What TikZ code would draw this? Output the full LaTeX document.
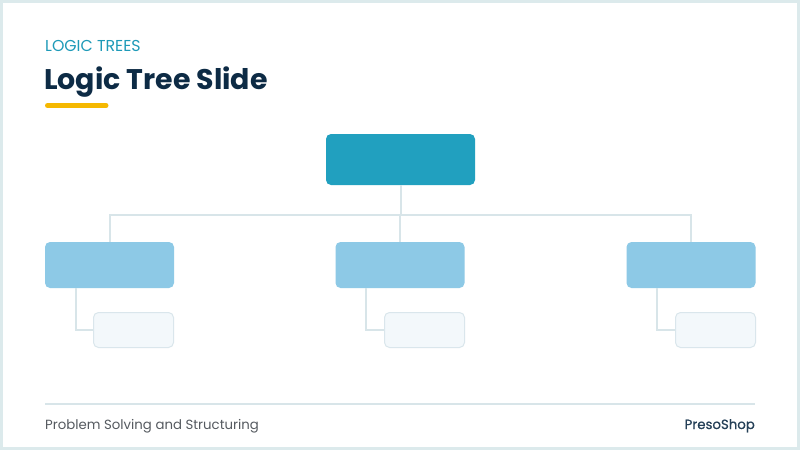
\documentclass[tikz,border=0pt]{standalone}
\usepackage{fontspec}
\setmainfont{Poppins}
\usetikzlibrary{positioning}

\definecolor{navy}{HTML}{0D2B45}
\definecolor{teal1}{HTML}{1E9AB8}
\definecolor{rootblue}{HTML}{21A0BF}
\definecolor{childblue}{HTML}{8DC9E6}
\definecolor{leaffill}{HTML}{F3F8FB}
\definecolor{leafline}{HTML}{DAE6EC}
\definecolor{wire}{HTML}{D8E5E9}
\definecolor{frame}{HTML}{DCEAEC}
\definecolor{accent}{HTML}{F5B800}
\definecolor{foot}{HTML}{555A60}

\begin{document}
\begin{tikzpicture}[
    x=1pt, y=-1pt,
    rootbox/.style={rectangle, rounded corners=5pt, fill=rootblue, draw=none,
                    minimum width=149pt, minimum height=51pt, inner sep=0pt},
    childbox/.style={rectangle, rounded corners=5pt, fill=childblue, draw=none,
                     minimum width=129pt, minimum height=46pt, inner sep=0pt},
    leafbox/.style={rectangle, rounded corners=5pt, fill=leaffill, draw=leafline,
                    line width=1pt, minimum width=80pt, minimum height=35pt, inner sep=0pt},
    wire/.style={draw=wire, line width=2pt},
    footnote/.style={font=\fontsize{13.3}{15}\selectfont, inner sep=0pt}
]

% --- Marco y fondo ---
\useasboundingbox (0,0) rectangle (800,450);
\fill[white] (0,0) rectangle (800,450);
\draw[frame, line width=3pt] (1.5,1.5) rectangle (798.5,448.5);

% --- Encabezado ---
\node[anchor=base west, inner sep=0pt, text=teal1, font=\fontsize{15.8}{18}\selectfont]
    (kicker) at (45,51.5) {LOGIC TREES};
\node[anchor=base west, inner sep=0pt, text=navy, font=\fontsize{28.4}{32}\bfseries\selectfont]
    (title) at (44,89.5) {Logic Tree Slide};
\draw[accent, line width=5pt, line cap=round] (47.5,105.5) -- (106,105.5);

% --- Arbol ---
\node[rootbox] (root) at (400.5,159.5) {};

\node[childbox] (left) at (109.5,265) {};
\node[childbox] (mid) at (400,265) {};
\node[childbox] (right) at (691,265) {};

\node[leafbox] (leafL) at (133.5,330) {};
\node[leafbox] (leafM) at (424.5,330) {};
\node[leafbox] (leafR) at (715.5,330) {};

\coordinate (bus) at (400.5,215);

% --- Conectores ---
\draw[wire] (root.south) -- (bus);
\draw[wire] (bus) -| (left.north);
\draw[wire] (bus) -| (mid.north);
\draw[wire] (bus) -| (right.north);

\draw[wire] ([xshift=31pt]left.south west) |- (leafL.west);
\draw[wire] ([xshift=31pt]mid.south west) |- (leafM.west);
\draw[wire] ([xshift=31pt]right.south west) |- (leafR.west);

% --- Pie de pagina ---
\draw[wire] (45,404) -- (755,404);
\node[footnote, anchor=base west, text=foot] (footL) at (45,429) {Problem Solving and Structuring};
\node[footnote, anchor=base east, text=navy!90] (footR) at (755,429) {\addfontfeatures{FakeBold=0.8}PresoShop};

\end{tikzpicture}
\end{document}
